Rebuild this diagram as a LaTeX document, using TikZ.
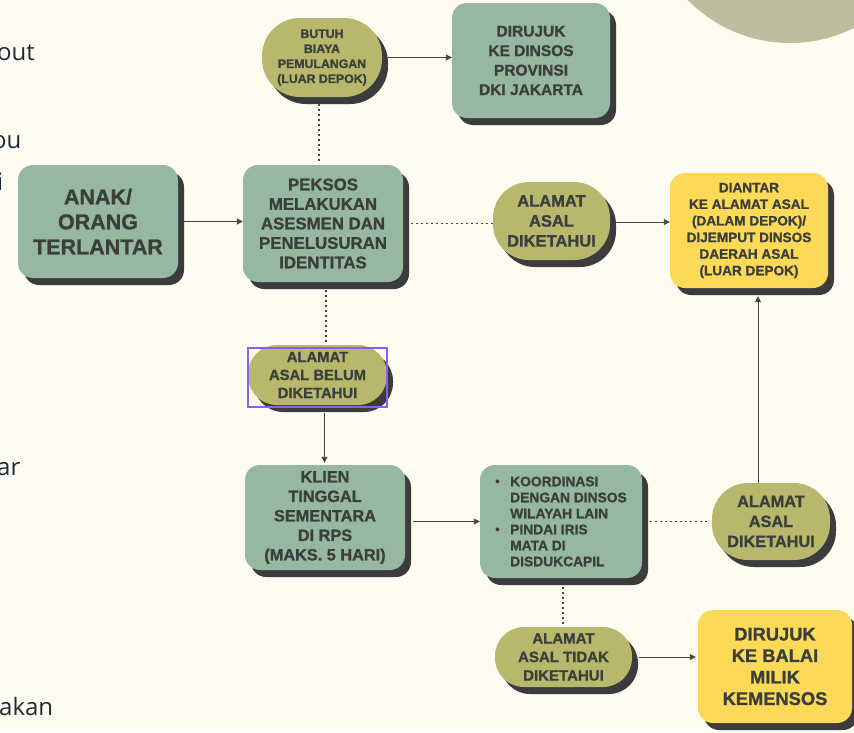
\documentclass[tikz,border=0pt]{standalone}
\usepackage{fontspec}
\setmainfont{Liberation Sans}[BoldFeatures={FakeBold=1.2}]
\newfontfamily\opensans{Open Sans}
\usetikzlibrary{shadows,arrows.meta}
\definecolor{bg}{HTML}{FEFCF0}
\definecolor{sage}{HTML}{97B8A0}
\definecolor{olive}{HTML}{B8B86C}
\definecolor{yel}{HTML}{FCD957}
\definecolor{shd}{HTML}{3C3C3E}
\definecolor{txt}{HTML}{3B3F3C}
\definecolor{circ}{HTML}{BDBD9F}
\definecolor{navy}{HTML}{1F2B3B}
\definecolor{lin}{HTML}{454545}
\definecolor{sel}{HTML}{8B5CF6}
\begin{document}
\begin{tikzpicture}[x=1pt,y=-1pt,
  base/.style={text=txt, align=center, inner sep=0pt,
    drop shadow={shadow xshift=6pt, shadow yshift=-7pt, fill=shd, opacity=1}},
  sz/.style 2 args={minimum width=#1pt, minimum height=#2pt},
  box/.style={base, rectangle, rounded corners=15pt, fill=sage},
  ybox/.style={base, rectangle, rounded corners=15pt, fill=yel},
  pill/.style={base, rectangle, rounded corners=#1pt, fill=olive},
  fs/.style 2 args={font=\fontsize{#1}{#2}\selectfont\bfseries},
  arr/.style={draw=lin, line width=0.9pt, -{Triangle[length=6pt,width=6pt]}},
  dots/.style={draw=lin, line width=1.4pt, dash pattern=on 1.4pt off 3.6pt},
  frag/.style={anchor=base west, inner sep=0pt, text=navy, font=\opensans\fontsize{24}{28}\selectfont}
]
\useasboundingbox (0,0) rectangle (854,732);
\clip (0,0) rectangle (854,732);
\fill[bg] (0,0) rectangle (854,732);
\fill[circ] (790,-100) circle (143pt);

% left text fragments
\node[frag] (f1) at (-3,60) {out};
\node[frag] (f2) at (-8,148) {ou};
\node[frag] (f3) at (-3,190) {i};
\node[frag] (f4) at (-3,475) {ar};
\node[frag] (f5) at (-1,715) {akan};

% nodes
\node[box, sz={160}{113}, fs={21.5}{25}] (anak) at (98,221.5) {ANAK/\\ORANG\\TERLANTAR};
\node[box, sz={160}{117}, fs={16.8}{19.5}] (peksos) at (323,223.5) {PEKSOS\\MELAKUKAN\\ASESMEN DAN\\PENELUSURAN\\IDENTITAS};
\node[pill=38, sz={120}{79}, fs={12.3}{15}] (butuh) at (322,57.5) {BUTUH\\BIAYA\\PEMULANGAN\\(LUAR DEPOK)};
\node[box, sz={158}{115}, fs={15.5}{19.5}] (dki) at (531,60.5) {DIRUJUK\\KE DINSOS\\PROVINSI\\DKI JAKARTA};
\node[pill=36, sz={117}{78}, fs={16.5}{20}] (al1) at (551.5,221) {ALAMAT\\ASAL\\DIKETAHUI};
\node[ybox, sz={158}{115}, fs={13.6}{16.6}] (yel1) at (749,230.5) {DIANTAR\\KE ALAMAT ASAL\\(DALAM DEPOK)/\\DIJEMPUT DINSOS\\DAERAH ASAL\\(LUAR DEPOK)};
\node[pill=29, sz={139}{60}, fs={14.8}{18}] (belum) at (317.5,375) {ALAMAT\\ASAL BELUM\\DIKETAHUI};
\node[box, sz={160}{105}, fs={16.3}{19.5}] (klien) at (325,517.5) {KLIEN\\TINGGAL\\SEMENTARA\\DI RPS\\(MAKS. 5 HARI)};
\node[box, sz={162}{113}, fs={13.8}{16}, align=left] (koord) at (561,521.5)
  {\makebox[15pt][l]{\normalfont\fontsize{14}{16}\selectfont\textbullet}KOORDINASI\\
   \hspace*{15pt}DENGAN DINSOS\\
   \hspace*{15pt}WILAYAH LAIN\\
   \makebox[15pt][l]{\normalfont\fontsize{14}{16}\selectfont\textbullet}PINDAI IRIS\\
   \hspace*{15pt}MATA DI\\
   \hspace*{15pt}DISDUKCAPIL};
\node[pill=36, sz={118}{77}, fs={16.3}{20}] (al2) at (771,521.5) {ALAMAT\\ASAL\\DIKETAHUI};
\node[pill=29, sz={137}{60}, fs={15}{18.5}] (tidak) at (563.5,657) {ALAMAT\\ASAL TIDAK\\DIKETAHUI};
\node[ybox, sz={154}{113}, fs={18.3}{21.5}] (balai) at (775,666.5) {DIRUJUK\\KE BALAI\\MILIK\\KEMENSOS};

% selection rectangle
\draw[sel, line width=1.5pt] (belum.north west) ++(0,3) rectangle ([yshift=-2pt]belum.south east);

% connectors
\draw[arr] ([xshift=6pt]anak.east) -- (anak.east -| peksos.west);
\draw[arr] ([xshift=5pt]butuh.east) -- (butuh.east -| dki.west);
\draw[dots] ([xshift=-3pt,yshift=-7pt]butuh.south) -- ([xshift=-3pt,yshift=2pt]butuh.south |- peksos.north);
\draw[dots] ([xshift=8pt]peksos.east) -- (peksos.east -| al1.west);
\draw[arr] ([xshift=6pt,yshift=-1pt]al1.east) -- ([yshift=-1pt]al1.east -| yel1.west);
\draw[arr] ([xshift=9pt]yel1.south |- al2.north) -- ([xshift=9pt,yshift=-8pt]yel1.south);
\draw[dots] ([xshift=3pt,yshift=-8pt]peksos.south) -- ([xshift=3pt]peksos.south |- belum.north);
\draw[arr] ([xshift=7pt,yshift=-8pt]belum.south) -- ([xshift=7pt,yshift=2pt]belum.south |- klien.north);
\draw[arr] ([xshift=8pt]klien.east |- koord.west) -- (koord.west);
\draw[dots] ([xshift=8pt]koord.east) -- ([xshift=-4pt]koord.east -| al2.west);
\draw[dots] ([xshift=2pt,yshift=-9pt]koord.south) -- ([xshift=2pt]koord.south |- tidak.north);
\draw[arr] ([xshift=7pt]tidak.east) -- ([xshift=-2pt]tidak.east -| balai.west);
\end{tikzpicture}
\end{document}
